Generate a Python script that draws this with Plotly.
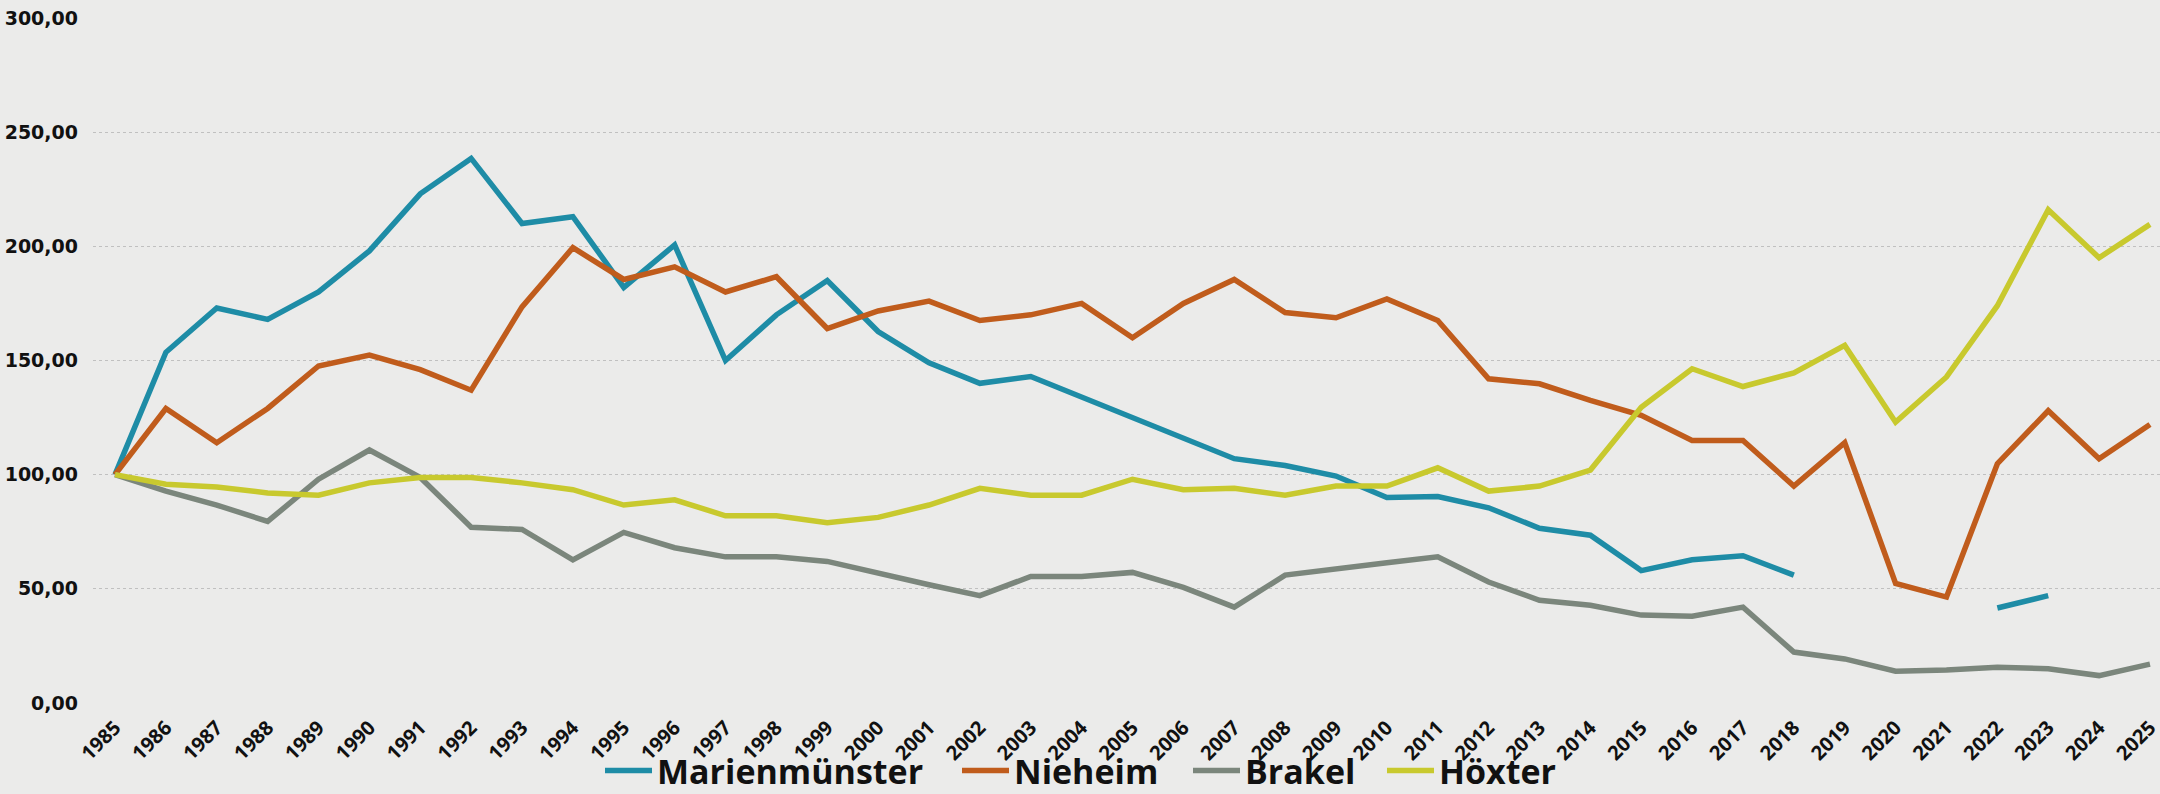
import plotly.graph_objects as go

years = list(range(1985, 2026))

marienmuenster = [100, 153.6, 173, 168, 180, 198, 223, 238.5, 210, 213,
                  182, 200.6, 150, 170, 185, 162.7, 149, 140, 143, 134,
                  125, 116, 107, 104, 99.4, 90, 90.4, 85.5, 76.5, 73.5,
                  58, 62.7, 64.5, 56, None, None, None, 41.6, 47, None, None]

nieheim = [100, 129, 114, 129, 147.6, 152.4, 146, 137, 173.5, 199.4,
           185.5, 191, 180, 186.7, 164, 171.7, 176, 167.5, 170, 175,
           160, 175, 185.5, 171, 168.7, 177, 167.5, 142, 139.8, 132.5,
           126, 115, 115, 95, 114, 52.4, 46.4, 104.8, 128, 107, 122]

brakel = [100, 92.8, 86.7, 79.5, 98, 110.8, 98.8, 77, 76, 62.7,
          74.7, 68, 64, 64, 62, 56.6, 51.8, 47, 55.4, 55.4,
          57.2, 50.6, 42, 56, 58.4, 61.4, 64, 53, 45, 42.8,
          38.5, 38, 42, 22.3, 19.3, 13.9, 14.5, 15.7, 15, 12, 17]

hoexter = [100, 95.8, 94.6, 92, 91, 96.4, 98.8, 98.8, 96.4, 93.4,
           86.7, 89, 82, 82, 79, 81.3, 86.7, 94, 91, 91,
           98, 93.4, 94, 91, 95, 95, 103, 92.8, 95, 102,
           129.5, 146.4, 138.6, 144.6, 156.6, 123, 142.8, 174, 216, 195, 209.6]

series_names = ["Marienmünster", "Nieheim", "Brakel", "Höxter"]
series_values = [marienmuenster, nieheim, brakel, hoexter]
colors = ["#1e8ca6", "#c05c1c", "#7b867c", "#c8c92e"]

y_ticks = [0, 50, 100, 150, 200, 250, 300]
y_ticktext = ["0,00", "50,00", "100,00", "150,00", "200,00", "250,00", "300,00"]

# one legend per series so each entry sits where the reference puts it
legend_ids = ["legend", "legend2", "legend3", "legend4"]
legend_text_x = [657, 1014, 1245, 1439]   # pixel x where each legend label starts
swatch_w = 47

fig = go.Figure()
for name, vals, col, lid in zip(series_names, series_values, colors, legend_ids):
    fig.add_trace(go.Scatter(
        x=years, y=vals, name=name, mode="lines",
        line=dict(color=col, width=5.5),
        connectgaps=False, legend=lid,
    ))

layout_legends = {}
for lid, tx in zip(legend_ids, legend_text_x):
    layout_legends[lid] = dict(
        orientation="h", xref="container", x=(tx - swatch_w - 10) / 2160,
        xanchor="left", yref="container", y=1 - 771 / 794, yanchor="middle",
        font=dict(family="Open Sans", size=34, color="#111111", weight="bold"),
        bgcolor="rgba(0,0,0,0)", itemwidth=swatch_w, borderwidth=0,
    )

fig.update_layout(
    width=2160, height=794,
    paper_bgcolor="#ebebea", plot_bgcolor="#ebebea",
    margin=dict(l=93, r=0, t=18, b=91, autoexpand=False),
    showlegend=True,
    **layout_legends,
)
fig.update_xaxes(
    range=[1984.567, 2025.197], automargin=False,
    tickvals=years, ticktext=[f"<b>{y}</b>" for y in years],
    tickangle=-45, showgrid=False, zeroline=False, showline=False,
    tickfont=dict(family="Open Sans", size=20, color="#111111"),
    ticklabelstandoff=8, ticklabeloverflow="allow",
)
fig.update_yaxes(
    range=[0, 300], tickvals=y_ticks, automargin=False,
    ticktext=[f"<b>{t}</b>" for t in y_ticktext],
    showgrid=True, gridcolor="#c0c0c0", gridwidth=1, griddash="dot",
    zeroline=False, showline=False,
    tickfont=dict(family="DejaVu Sans", size=19, color="#111111"),
    ticklabelstandoff=14,
)

fig.write_html(
    "out.html",
    config={"displayModeBar": False},
    post_script="document.body.style.margin='0';document.body.style.overflow='hidden';",
)
